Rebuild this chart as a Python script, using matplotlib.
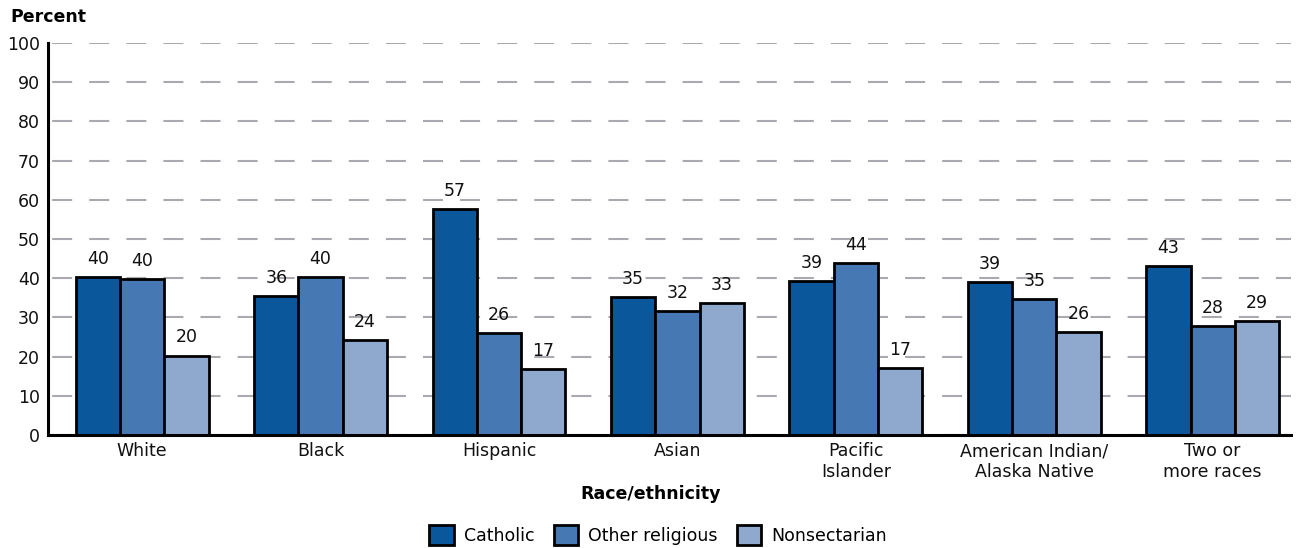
import numpy as np
from matplotlib import pyplot as plt
from matplotlib.patches import Patch

# categories and series values
groups = ["White", "Black", "Hispanic", "Asian", "Pacific\nIslander",
          "American Indian/\nAlaska Native", "Two or\nmore races"]
catholic = [40.3, 35.5, 57.6, 35.2, 39.3, 39.0, 43.1]
other_religious = [39.8, 40.3, 26.0, 31.6, 43.9, 34.7, 27.8]
nonsectarian = [20.2, 24.2, 16.8, 33.7, 17.1, 26.3, 29.1]
# printed labels (published rounded values)
catholic_lbl = [40, 36, 57, 35, 39, 39, 43]
other_lbl = [40, 40, 26, 32, 44, 35, 28]
nonsect_lbl = [20, 24, 17, 33, 17, 26, 29]
series_names = ["Catholic", "Other religious", "Nonsectarian"]
colors = ["#0b579b", "#4679b3", "#8fa8ce"]

plt.rcParams['font.family'] = ['DejaVu Sans']

fig = plt.figure(figsize=(13.01, 5.48), dpi=100)
ax = fig.add_axes([0.037, 0.206, 0.955, 0.7155])

x = np.arange(len(groups))
width = 0.248

series = [(catholic, catholic_lbl), (other_religious, other_lbl), (nonsectarian, nonsect_lbl)]
# draw each series next to each other
for i, ((vals, lbls), col) in enumerate(zip(series, colors)):
    pos = x + (i - 1) * width
    ax.bar(pos, vals, width, color=col, edgecolor="black", linewidth=2, zorder=3)
    for p, v, l in zip(pos, vals, lbls):
        ax.text(p, v + 2.4, str(l), ha="center", va="bottom", fontsize=12.5, color="#111111")

ax.set_ylim(0, 100)
ax.set_xlim(-0.527, 6.437)
ax.set_yticks(range(0, 101, 10))
ax.set_xticks(x)
ax.set_xticklabels(groups, fontsize=12.5, linespacing=1.2, color="#111111")
ax.tick_params(axis='y', labelsize=12.5, length=0, pad=6, labelcolor="#111111")
ax.tick_params(axis='x', length=0, pad=5)

# dashed gray gridlines behind the bars
ax.yaxis.grid(True, color="#a9a9b0", linestyle=(15.8, (9.6, 8.2)), linewidth=1.5, zorder=0)
ax.set_axisbelow(True)

for s in ["top", "right"]:
    ax.spines[s].set_visible(False)
for s in ["left", "bottom"]:
    ax.spines[s].set_linewidth(2.2)
    ax.spines[s].set_zorder(4)

fig.text(0.008, 0.969, "Percent", fontsize=12.5, fontweight="bold", va="center")
fig.text(0.5, 0.0985, "Race/ethnicity", fontsize=12.5, fontweight="bold", ha="center", va="center")

handles = [Patch(facecolor=c, edgecolor="black", linewidth=2) for c in colors]
fig.legend(handles, series_names, loc="center", bbox_to_anchor=(0.506, 0.024), ncol=3,
           frameon=False, fontsize=12.5, handlelength=1.4, handleheight=1.4,
           columnspacing=1.1, handletextpad=0.6, borderpad=0.1)

plt.savefig("out.png", dpi=100)
